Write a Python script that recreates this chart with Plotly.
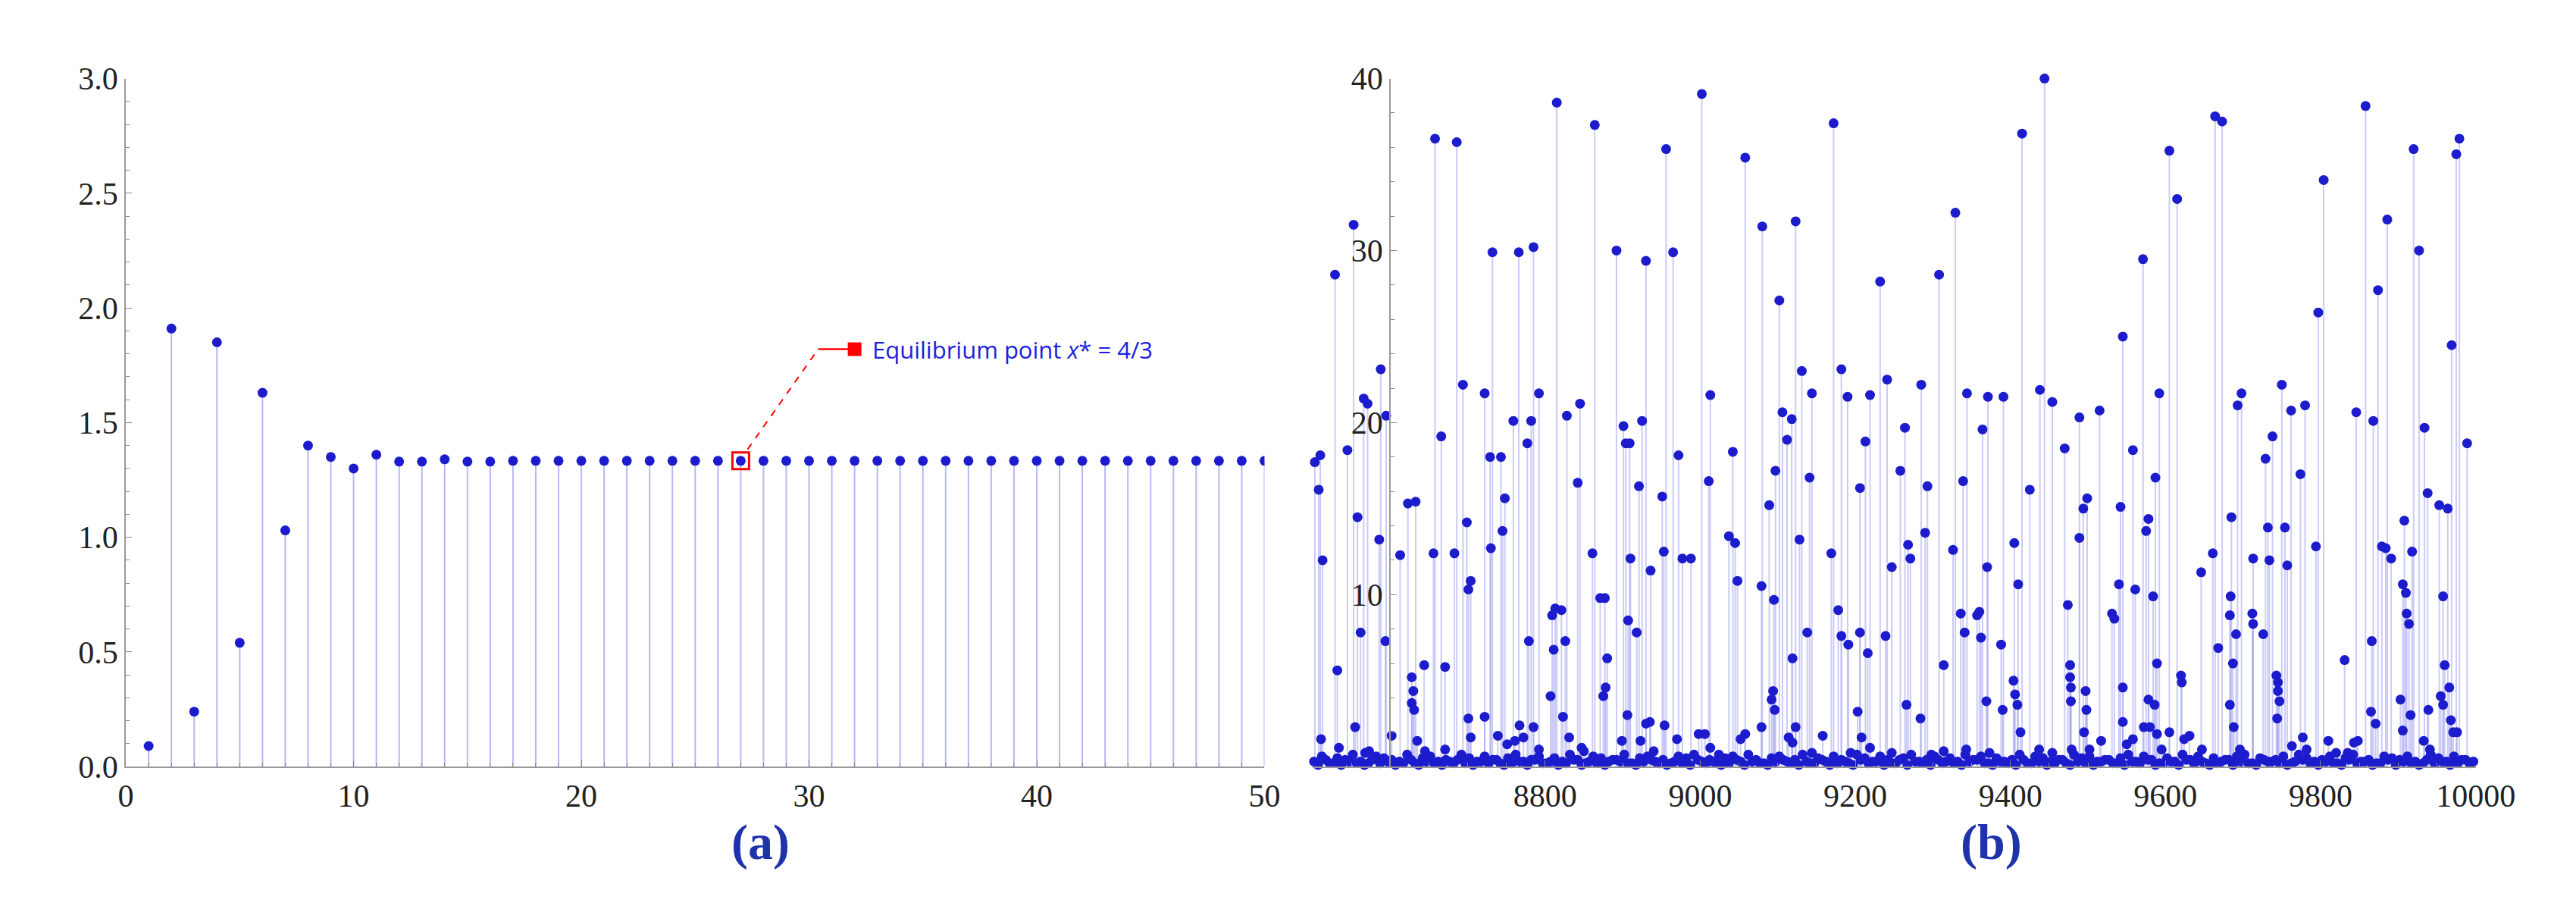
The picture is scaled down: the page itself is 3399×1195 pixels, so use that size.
import plotly.graph_objects as go

# ---- panel (a) data ----
n_a = list(range(1, 51))
x_a = [0.09, 1.91, 0.24, 1.85, 0.54, 1.63, 1.03, 1.40, 1.35, 1.30,
       1.36, 1.33, 1.33, 1.34, 1.33, 1.33] + [1.3333] * 34
eq_x, eq_y = 27, 4/3
lab_x, lab_y = 32, 1.82
bend_x = 30.4

# ---- panel (b) data: visible points (n, x_n) ----
b_pts = [
(8503,17.7),(8508,16.1),(8510,18.1),(8513,12.0),(8511,1.6),(8529,28.6),(8532,5.6),(8534,1.1),
(8545,18.4),(8553,31.5),(8555,2.3),(8558,14.5),(8562,7.8),(8566,21.4),(8571,21.1),(8568,0.8),(8573,0.9),
(8586,13.2),(8588,23.1),(8595,20.4),(8594,7.3),(8602,1.8),(8613,12.3),(8623,15.3),(8628,5.2),(8630,4.4),
(8628,3.7),(8631,3.3),(8633,15.4),(8635,1.5),(8644,5.9),(8645,0.9),(8656,12.4),(8658,36.5),(8666,19.2),
(8671,5.8),(8671,1.0),(8683,12.4),(8686,36.3),(8694,22.2),(8699,14.2),(8701,10.3),(8704,10.8),(8701,2.8),
(8704,1.7),(8722,21.7),(8722,2.9),(8729,18.0),(8730,12.7),(8732,29.9),(8739,1.8),(8743,18.0),(8745,13.7),
(8748,15.6),(8751,1.3),(8759,20.1),(8761,1.5),(8766,29.9),(8767,2.4),(8772,1.7),(8777,18.8),(8779,7.3),
(8782,20.1),(8785,30.2),(8785,2.3),(8792,21.7),(8792,1.0),(8807,4.1),(8809,8.8),(8811,6.8),(8813,9.2),
(8815,38.6),(8821,9.1),(8823,2.9),(8826,7.3),(8828,20.4),(8831,1.7),(8842,16.5),(8845,21.1),(8847,1.1),
(8850,0.9),(8861,12.4),(8864,37.3),(8871,9.8),(8877,9.8),(8875,4.1),(8878,4.6),(8880,6.3),(8892,30.0),
(8899,1.5),(8901,19.8),(8904,18.8),(8906,3.0),(8909,18.8),(8907,8.5),(8910,12.1),(8918,7.8),(8921,16.3),
(8925,20.1),(8923,1.5),(8930,29.4),(8930,2.5),(8936,11.4),(8935,2.6),(8940,0.9),(8951,15.7),(8953,12.5),
(8956,35.9),(8954,2.4),(8965,29.9),(8970,1.6),(8972,18.1),(8977,12.1),(8988,12.1),(8998,1.9),(9006,1.9),
(9002,39.1),(9011,16.6),(9013,21.6),(9013,1.1),(9024,0.7),(9037,13.4),(9042,18.3),(9045,13.0),(9048,10.8),
(9052,1.6),(9058,1.9),(9058,35.4),(9079,10.5),(9079,2.3),(9080,31.4),(9089,15.2),(9095,9.7),(9097,17.2),
(9092,3.9),(9094,4.4),(9096,3.3),(9102,27.1),(9106,20.6),(9112,19.0),(9118,20.2),(9119,6.3),(9114,1.7),
(9119,1.4),(9123,31.7),(9123,2.3),(9128,13.2),(9131,23.0),(9138,7.8),(9141,16.8),(9144,21.7),(9144,0.8),
(9158,1.8),(9169,12.4),(9172,37.4),(9178,9.1),(9182,23.1),(9182,7.6),(9190,21.5),(9191,7.1),(9194,0.8),
(9203,3.2),(9206,16.2),(9206,7.8),(9208,1.7),(9213,18.9),(9216,6.6),(9219,21.6),(9219,1.1),(9232,28.2),
(9239,7.6),(9241,22.5),(9247,11.6),(9247,0.8),(9258,17.2),(9264,19.7),(9266,3.6),(9268,12.9),(9271,12.1),
(9284,2.8),(9285,22.2),(9290,13.6),(9293,16.3),(9298,0.7),(9308,28.6),(9314,5.9),(9314,0.9),(9326,12.6),
(9329,32.2),(9336,8.9),(9339,16.6),(9341,7.8),(9344,21.7),(9343,1.0),(9357,8.8),(9360,9.0),(9364,19.6),
(9362,7.5),(9370,11.6),(9369,3.8),(9371,21.5),(9373,0.8),(9388,7.1),(9391,21.5),(9390,3.3),(9404,5.0),
(9406,4.2),(9409,3.6),(9405,13.0),(9410,10.6),(9413,2.0),(9415,36.8),(9425,16.1),(9437,1.0),(9438,21.9),
(9444,40.0),(9454,21.2),(9454,0.8),(9470,18.5),(9474,9.4),(9477,5.9),(9477,5.2),(9478,4.6),(9478,3.8),
(9479,1.0),(9489,13.3),(9489,20.3),(9494,15.0),(9497,4.4),(9498,3.3),(9495,2.0),(9499,15.6),(9502,1.0),
(9515,20.7),(9517,1.5),(9531,8.9),(9534,8.6),(9540,10.6),(9542,15.1),(9545,25.0),(9545,4.6),(9545,2.6),
(9550,1.3),(9558,18.4),(9561,10.3),(9558,1.6),(9571,29.5),(9572,2.3),(9575,13.7),(9578,14.4),(9578,3.9),
(9580,2.3),(9584,9.9),(9586,3.6),(9587,16.8),(9589,6.0),(9589,1.9),(9592,21.7),(9595,1.0),(9605,35.8),
(9605,2.0),(9615,33.0),(9620,5.3),(9621,4.9),(9624,1.6),(9631,1.8),(9646,11.3),(9647,1.0),(9661,12.4),
(9664,37.8),(9668,6.9),(9673,37.5),(9683,8.8),(9683,3.6),(9684,9.9),(9685,14.5),(9687,6.0),(9688,2.3),
(9691,7.7),(9693,21.0),(9696,1.0),(9698,21.7),(9713,12.1),(9712,8.9),(9713,8.3),(9726,7.7),(9729,17.9),
(9732,13.9),(9734,12.0),(9738,19.2),(9743,5.3),(9745,4.9),(9745,4.4),(9747,3.8),(9744,2.8),(9750,22.2),
(9754,13.9),(9757,11.7),(9762,20.7),(9763,1.2),(9774,17.0),(9777,1.7),(9780,21.0),(9782,1.0),(9794,12.8),
(9797,26.4),(9804,34.1),(9810,1.5),(9820,0.8),(9831,6.2),(9835,0.8),(9843,1.4),(9846,20.6),(9848,1.5),
(9858,38.4),(9865,3.2),(9866,7.3),(9868,20.1),(9871,2.5),(9874,27.7),(9879,12.8),(9884,12.7),(9886,31.8),
(9891,12.1),(9903,3.9),(9906,2.1),(9908,14.3),(9906,10.6),(9910,10.1),(9911,8.9),(9914,8.3),(9916,3.0),
(9918,12.5),(9920,35.9),(9927,30.0),(9934,19.7),(9933,1.5),(9938,15.9),(9939,3.3),(9941,1.0),(9953,15.2),
(9958,9.9),(9955,4.1),(9958,3.6),(9960,5.9),(9964,15.0),(9966,4.6),(9968,2.7),(9971,2.0),(9976,2.0),
(9969,24.5),(9975,35.6),(9979,36.5),(9989,18.8),
]
b_n = [p[0] for p in b_pts]
b_x = [p[1] for p in b_pts]

# dense band of small values near zero
band_n = list(range(8502, 10000, 10))
band_x = [0.3,0.6,0.2,0.5,0.4,0.7,0.3,0.2,0.6,0.5,0.4,0.3,0.7,0.2,0.5,0.6,0.3,0.4,0.2,0.7,
          0.5,0.3,0.6,0.4,0.2,0.5,0.7,0.3,0.4,0.6,0.2,0.5,0.3,0.7,0.4,0.2,0.6,0.5,0.3,0.4,
          0.7,0.2,0.5,0.6,0.3,0.4,0.2,0.6,0.5,0.7,0.3,0.4,0.2,0.5,0.6,0.3,0.7,0.4,0.2,0.5,
          0.6,0.3,0.4,0.7,0.2,0.5,0.3,0.6,0.4,0.2,0.7,0.5,0.3,0.6,0.4,0.2,0.5,0.7,0.3,0.4,
          0.6,0.2,0.5,0.3,0.7,0.4,0.6,0.2,0.5,0.3,0.4,0.7,0.2,0.6,0.5,0.3,0.4,0.2,0.7,0.5,
          0.6,0.3,0.4,0.2,0.5,0.7,0.3,0.6,0.4,0.2,0.5,0.3,0.7,0.4,0.6,0.2,0.5,0.3,0.4,0.6,
          0.7,0.2,0.5,0.3,0.4,0.6,0.2,0.7,0.5,0.3,0.4,0.6,0.2,0.5,0.7,0.3,0.4,0.2,0.6,0.5,
          0.4,0.6,0.3,0.2,0.7,0.5,0.3,0.6,0.4,0.2]
band2_n = list(range(8507, 10000, 10))
band2_x = [0.1,0.4,0.2,0.1,0.3,0.2,0.1,0.4,0.2,0.3,0.1,0.2,0.4,0.1,0.3,0.2,0.1,0.3,0.4,0.2,
           0.1,0.3,0.2,0.4,0.1,0.2,0.3,0.1,0.4,0.2,0.3,0.1,0.2,0.4,0.1,0.3,0.2,0.1,0.4,0.3,
           0.2,0.1,0.3,0.4,0.2,0.1,0.3,0.2,0.1,0.4,0.2,0.3,0.1,0.2,0.4,0.1,0.3,0.2,0.1,0.3,
           0.4,0.2,0.1,0.3,0.2,0.4,0.1,0.2,0.3,0.1,0.4,0.2,0.3,0.1,0.2,0.4,0.1,0.3,0.2,0.1,
           0.4,0.3,0.2,0.1,0.3,0.4,0.2,0.1,0.3,0.2,0.1,0.4,0.2,0.3,0.1,0.2,0.4,0.1,0.3,0.2,
           0.1,0.3,0.4,0.2,0.1,0.3,0.2,0.4,0.1,0.2,0.3,0.1,0.4,0.2,0.3,0.1,0.2,0.4,0.1,0.3,
           0.2,0.1,0.4,0.3,0.2,0.1,0.3,0.4,0.2,0.1,0.3,0.2,0.1,0.4,0.2,0.3,0.1,0.2,0.4,0.1,
           0.3,0.2,0.1,0.4,0.2,0.3,0.1,0.2,0.4,0.3]

ticks_a_x = [0, 10, 20, 30, 40, 50]
ticks_a_y = [0.0, 0.5, 1.0, 1.5, 2.0, 2.5, 3.0]
ticks_b_x = [8800, 9000, 9200, 9400, 9600, 9800, 10000]
ticks_b_y = [10, 20, 30, 40]

DOT = "rgb(28,28,205)"
STEM = "rgba(160,160,240,0.55)"
SERIF = "Liberation Serif"

def stems(xs, ys):
    sx, sy = [], []
    for a, b in zip(xs, ys):
        sx += [a, a, None]; sy += [0, b, None]
    return sx, sy

fig = go.Figure()
sx, sy = stems(n_a, x_a)
fig.add_trace(go.Scatter(x=sx, y=sy, mode="lines", line=dict(color="rgba(175,175,245,0.9)", width=2),
                         xaxis="x", yaxis="y", hoverinfo="skip"))
fig.add_trace(go.Scatter(x=n_a, y=x_a, mode="markers", marker=dict(color=DOT, size=13),
                         xaxis="x", yaxis="y"))
fig.add_trace(go.Scatter(x=[eq_x + 0.3, bend_x], y=[eq_y + 0.05, lab_y], mode="lines",
                         line=dict(color="red", width=2, dash="dash"), xaxis="x", yaxis="y"))
fig.add_trace(go.Scatter(x=[bend_x, lab_x], y=[lab_y, lab_y], mode="lines",
                         line=dict(color="red", width=2.5), xaxis="x", yaxis="y"))
fig.add_trace(go.Scatter(x=[eq_x], y=[eq_y], mode="markers",
                         marker=dict(symbol="square-open", color="red", size=22, line=dict(width=3)),
                         xaxis="x", yaxis="y"))
fig.add_trace(go.Scatter(x=[lab_x], y=[lab_y], mode="markers",
                         marker=dict(symbol="square", color="red", size=18), xaxis="x", yaxis="y"))

sx, sy = stems(b_n + band_n, b_x + band_x)
fig.add_trace(go.Scatter(x=sx, y=sy, mode="lines", line=dict(color=STEM, width=2),
                         xaxis="x2", yaxis="y2", hoverinfo="skip"))
for nn, vv in [(band_n, band_x), (band2_n, band2_x), (b_n, b_x)]:
    fig.add_trace(go.Scatter(x=nn, y=vv, mode="markers", marker=dict(color=DOT, size=13),
                             xaxis="x2", yaxis="y2", cliponaxis=False))

dom_a = [0.0441, 0.4946]
dom_b = [0.5136, 0.9738]
ydom = [0.146, 0.936]
xr_b = [8500, 10000]
ypos_b = dom_b[0] + (8600 - xr_b[0]) / (xr_b[1] - xr_b[0]) * (dom_b[1] - dom_b[0])
tickfont = dict(family=SERIF, size=42, color="#222")
common = dict(showgrid=False, zeroline=False, ticks="inside", ticklen=8, tickcolor="#888",
              showline=True, linecolor="#999", linewidth=2, tickfont=tickfont)

fig.update_layout(
    width=3399, height=1195, paper_bgcolor="white", plot_bgcolor="white",
    showlegend=False, margin=dict(l=0, r=0, t=0, b=0), font=dict(family=SERIF),
    xaxis=dict(domain=dom_a, range=[0, 50], tickvals=ticks_a_x, anchor="y",
               minor=dict(ticks="inside", dtick=1, ticklen=5, tickcolor="#888"), **common),
    yaxis=dict(domain=ydom, range=[0, 3], tickvals=ticks_a_y, tickformat=".1f", anchor="x",
               minor=dict(ticks="inside", dtick=0.1, ticklen=5, tickcolor="#888"), **common),
    xaxis2=dict(domain=dom_b, range=xr_b, tickvals=ticks_b_x, tickformat="d", anchor="y2",
                minor=dict(ticks="inside", dtick=50, ticklen=5, tickcolor="#888"), **common),
    yaxis2=dict(domain=ydom, range=[0, 40], tickvals=ticks_b_y, anchor="free", position=ypos_b,
                minor=dict(ticks="inside", dtick=2, ticklen=5, tickcolor="#888"), **common),
)
fig.add_annotation(xref="x", yref="y", x=lab_x + 0.7, y=lab_y, text="Equilibrium point <i>x</i>* = 4/3",
                   showarrow=False, xanchor="left", font=dict(family="Open Sans", size=31, color="rgb(30,30,220)"))
for lbl, xc in [("(a)", 0.283), ("(b)", 0.795)]:
    fig.add_annotation(xref="paper", yref="paper", x=xc, y=0.059, yanchor="middle", text="<b>%s</b>" % lbl,
                       showarrow=False, font=dict(family=SERIF, size=66, color="rgb(30,50,170)"))

fig.write_html("out.html")
